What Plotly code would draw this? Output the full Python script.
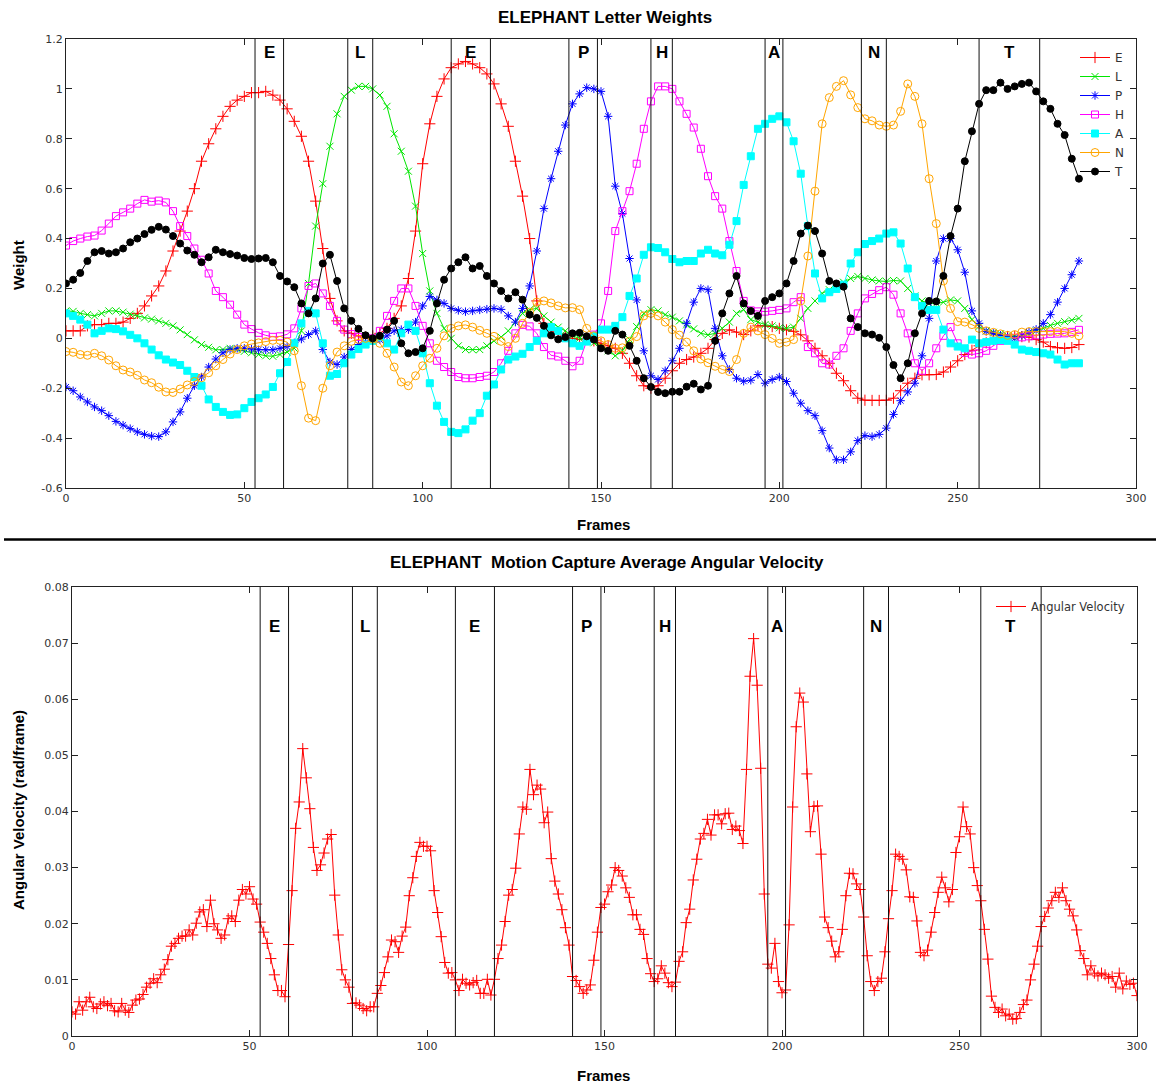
import plotly.graph_objects as go

# ---------------- data ----------------
FRAMES_W = list(range(0, 285, 2))

E_W = [0.03, 0.03, 0.03, 0.05, 0.055, 0.055, 0.06, 0.06, 0.065, 0.08,
       0.10, 0.13, 0.17, 0.21, 0.27, 0.35, 0.43, 0.51, 0.60, 0.71,
       0.78, 0.84, 0.89, 0.93, 0.955, 0.97, 0.985, 0.985, 0.99, 0.975,
       0.955, 0.92, 0.87, 0.81, 0.71, 0.55, 0.36, 0.16, 0.07, 0.03,
       0.02, 0.01, 0.005, 0.01, 0.02, 0.04, 0.08, 0.13, 0.24, 0.43,
       0.70, 0.86, 0.97, 1.04, 1.085, 1.10, 1.11, 1.10, 1.085, 1.06,
       1.02, 0.94, 0.85, 0.71, 0.57, 0.40, 0.15, 0.06, 0.03, 0.02,
       0.01, 0.0, -0.005, 0.0, -0.01, -0.02, -0.03, -0.04, -0.06, -0.10,
       -0.15, -0.19, -0.20, -0.19, -0.16, -0.13, -0.10, -0.085, -0.075, -0.06,
       -0.04, -0.005, 0.02, 0.034, 0.025, 0.015, 0.03, 0.05, 0.05, 0.047,
       0.04, 0.034, 0.028, 0.014, -0.01, -0.04, -0.07, -0.10, -0.14, -0.17,
       -0.21, -0.24, -0.248, -0.249, -0.249, -0.248, -0.24, -0.21, -0.18, -0.16,
       -0.146, -0.146, -0.145, -0.135, -0.115, -0.09, -0.065, -0.048, -0.03, -0.018,
       -0.006, 0.004, 0.007, 0.007, 0.007, 0.005, -0.005, -0.015, -0.033, -0.038,
       -0.04, -0.037, -0.025]

L_W = [0.11, 0.108, 0.10, 0.095, 0.09, 0.10, 0.11, 0.11, 0.105, 0.097,
       0.09, 0.082, 0.077, 0.07, 0.06, 0.05, 0.034, 0.015, -0.006, -0.025,
       -0.036, -0.046, -0.045, -0.04, -0.045, -0.052, -0.058, -0.065, -0.07, -0.072,
       -0.065, -0.055, -0.04, 0.03, 0.22, 0.45, 0.62, 0.77, 0.90, 0.97,
       0.995, 1.01, 1.01, 1.0, 0.975, 0.93, 0.82, 0.75, 0.67, 0.53,
       0.34, 0.19, 0.10, 0.04, 0.0, -0.03, -0.045, -0.046, -0.045, -0.03,
       -0.01, 0.005, 0.03, 0.065, 0.10, 0.115, 0.12, 0.09, 0.065, 0.045,
       0.03, 0.01, 0.0, -0.006, -0.018, -0.03, -0.05, -0.07, -0.05, -0.005,
       0.047, 0.10, 0.115, 0.11, 0.095, 0.085, 0.07, 0.054, 0.038, 0.02,
       0.014, 0.02, 0.04, 0.065, 0.10, 0.115, 0.075, 0.065, 0.055, 0.05,
       0.042, 0.04, 0.045, 0.08, 0.12, 0.15, 0.18, 0.195, 0.208, 0.225,
       0.24, 0.248, 0.24, 0.234, 0.23, 0.228, 0.232, 0.23, 0.20, 0.17,
       0.15, 0.14, 0.14, 0.145, 0.154, 0.15, 0.12, 0.075, 0.048, 0.03,
       0.024, 0.018, 0.01, 0.007, 0.012, 0.02, 0.03, 0.04, 0.052, 0.06,
       0.067, 0.073, 0.08]

P_W = [-0.195, -0.21, -0.235, -0.255, -0.275, -0.29, -0.31, -0.333, -0.348, -0.362,
       -0.375, -0.385, -0.392, -0.394, -0.375, -0.335, -0.295, -0.24, -0.19, -0.155,
       -0.115, -0.083, -0.058, -0.045, -0.04, -0.04, -0.043, -0.046, -0.046, -0.046,
       -0.04, -0.033, -0.018, -0.003, 0.015, 0.03, -0.045, -0.095, -0.105, -0.075,
       -0.045, -0.025, -0.015, -0.01, -0.006, 0.01, 0.03, 0.035, 0.035, 0.065,
       0.13, 0.168, 0.154, 0.14, 0.12, 0.112, 0.107, 0.11, 0.114, 0.117,
       0.12, 0.116, 0.09, 0.065, 0.12, 0.21, 0.35, 0.52, 0.64, 0.75,
       0.855, 0.94, 0.98, 1.005, 1.0, 0.99, 0.89, 0.61, 0.50, 0.32,
       0.154, -0.05, -0.15, -0.165, -0.13, -0.09, -0.04, 0.06, 0.145, 0.20,
       0.195, 0.04, -0.07, -0.125, -0.16, -0.172, -0.168, -0.145, -0.18, -0.165,
       -0.155, -0.173, -0.22, -0.26, -0.29, -0.31, -0.37, -0.44, -0.487, -0.487,
       -0.455, -0.41, -0.39, -0.394, -0.385, -0.36, -0.305, -0.25, -0.215, -0.18,
       -0.07, 0.08, 0.31, 0.40, 0.40, 0.355, 0.265, 0.11, 0.06, 0.028,
       0.02, 0.012, 0.005, 0.0, 0.012, 0.025, 0.036, 0.06, 0.095, 0.145,
       0.20, 0.255, 0.31]

H_W = [0.372, 0.39, 0.40, 0.408, 0.412, 0.432, 0.46, 0.49, 0.505, 0.52,
       0.54, 0.555, 0.548, 0.552, 0.545, 0.51, 0.45, 0.41, 0.36, 0.315,
       0.26, 0.19, 0.165, 0.135, 0.095, 0.055, 0.037, 0.022, 0.012, 0.006,
       0.008, 0.016, 0.04, 0.12, 0.21, 0.22, 0.18, 0.13, 0.07, 0.035,
       0.017, 0.005, 0.0, 0.0, 0.03, 0.09, 0.15, 0.20, 0.20, 0.13,
       0.05, -0.02, -0.09, -0.115, -0.135, -0.155, -0.16, -0.16, -0.155, -0.15,
       -0.135, -0.1, -0.05, 0.02, 0.054, 0.048, 0.02, -0.035, -0.068, -0.073,
       -0.09, -0.112, -0.09, -0.01, 0.015, 0.06, 0.19, 0.43, 0.51, 0.59,
       0.70, 0.84, 0.95, 1.01, 1.01, 1.0, 0.95, 0.90, 0.845, 0.76,
       0.65, 0.57, 0.52, 0.39, 0.27, 0.15, 0.112, 0.108, 0.107, 0.11,
       0.114, 0.12, 0.145, 0.165, -0.035, -0.06, -0.1, -0.105, -0.07, -0.04,
       0.03, 0.10, 0.16, 0.178, 0.193, 0.205, 0.175, 0.10, 0.02, -0.1,
       -0.13, -0.1, -0.04, 0.01, 0.045, -0.02, -0.058, -0.065, -0.06, -0.05,
       -0.03, -0.01, 0.0, 0.002, 0.004, 0.008, 0.012, 0.015, 0.018, 0.019,
       0.02, 0.026, 0.034]

A_W = [0.10, 0.09, 0.075, 0.055, 0.02, 0.03, 0.04, 0.037, 0.028, 0.014,
       0.0, -0.02, -0.045, -0.068, -0.085, -0.097, -0.107, -0.13, -0.155, -0.19,
       -0.245, -0.275, -0.295, -0.307, -0.305, -0.28, -0.255, -0.24, -0.225, -0.195,
       -0.14, -0.095, -0.02, 0.06, 0.11, 0.10, -0.02, -0.15, -0.143, -0.1,
       -0.065, -0.043, -0.025, -0.01, 0.005, -0.02, -0.045, 0.02, 0.055, 0.03,
       -0.06, -0.18, -0.27, -0.335, -0.375, -0.38, -0.365, -0.33, -0.30, -0.23,
       -0.185, -0.125, -0.085, -0.073, -0.062, -0.035, -0.01, 0.02, 0.045, 0.03,
       0.0, -0.02, -0.03, -0.013, 0.01, 0.035, 0.035, 0.05, 0.085, 0.17,
       0.24, 0.335, 0.365, 0.362, 0.345, 0.318, 0.305, 0.31, 0.31, 0.34,
       0.355, 0.34, 0.333, 0.375, 0.47, 0.615, 0.73, 0.84, 0.86, 0.88,
       0.89, 0.866, 0.79, 0.66, 0.45, 0.26, 0.16, 0.185, 0.198, 0.215,
       0.30, 0.345, 0.378, 0.39, 0.40, 0.42, 0.425, 0.38, 0.28, 0.165,
       0.13, 0.114, 0.114, 0.035, -0.02, -0.033, -0.04, -0.005, -0.02, -0.015,
       -0.01, -0.007, -0.01, -0.025, -0.045, -0.05, -0.055, -0.06, -0.065, -0.085,
       -0.105, -0.1, -0.1]

N_W = [-0.053, -0.056, -0.065, -0.068, -0.06, -0.07, -0.087, -0.11, -0.127, -0.135,
       -0.148, -0.167, -0.178, -0.196, -0.215, -0.217, -0.203, -0.187, -0.173, -0.158,
       -0.138, -0.11, -0.085, -0.063, -0.045, -0.03, -0.023, -0.018, -0.013, -0.008,
       -0.008, -0.015, -0.05, -0.19, -0.32, -0.33, -0.2, -0.11, -0.055, -0.03,
       -0.012, -0.004, 0.0, -0.003, -0.02, -0.06, -0.115, -0.175, -0.19, -0.15,
       -0.11, -0.08, -0.04, 0.01, 0.04, 0.05, 0.054, 0.045, 0.032, 0.02,
       0.008, -0.012, -0.033, 0.0, 0.06, 0.105, 0.145, 0.15, 0.142, 0.13,
       0.122, 0.123, 0.115, 0.04, 0.01, -0.01, -0.025, -0.04, -0.038, -0.012,
       0.007, 0.09, 0.10, 0.09, 0.065, 0.035, 0.013, -0.015, -0.05, -0.083,
       -0.098, -0.112, -0.125, -0.133, -0.085, 0.02, 0.045, 0.03, 0.015, 0.0,
       -0.02, -0.015, -0.005, 0.15, 0.33, 0.59, 0.86, 0.965, 1.01, 1.033,
       0.976, 0.925, 0.88, 0.872, 0.855, 0.85, 0.855, 0.91, 1.02, 0.97,
       0.86, 0.64, 0.46, 0.23, 0.12, 0.067, 0.065, 0.055, 0.04, 0.03,
       0.024, 0.018, 0.012, 0.015, 0.025, 0.027, 0.027, 0.027, 0.027, 0.027,
       0.027, 0.02, 0.01]

T_W = [0.22, 0.235, 0.262, 0.31, 0.345, 0.35, 0.34, 0.345, 0.36, 0.385,
       0.40, 0.418, 0.435, 0.447, 0.436, 0.41, 0.38, 0.352, 0.335, 0.305,
       0.325, 0.355, 0.345, 0.338, 0.332, 0.322, 0.318, 0.32, 0.322, 0.305,
       0.25, 0.228, 0.205, 0.14, 0.10, 0.16, 0.30, 0.335, 0.23, 0.12,
       0.07, 0.038, 0.012, 0.0, 0.01, 0.035, 0.07, -0.02, -0.06, -0.055,
       -0.04, 0.03, 0.14, 0.235, 0.28, 0.305, 0.325, 0.28, 0.29, 0.25,
       0.22, 0.19, 0.16, 0.185, 0.155, 0.095, 0.082, 0.05, 0.012, -0.004,
       0.005, 0.02, 0.022, 0.008, -0.005, -0.04, -0.05, 0.03, 0.015, -0.03,
       -0.09, -0.16, -0.195, -0.215, -0.22, -0.214, -0.214, -0.194, -0.182, -0.205,
       -0.19, -0.01, 0.10, 0.18, 0.25, 0.14, 0.11, 0.09, 0.15, 0.165,
       0.18, 0.22, 0.31, 0.42, 0.452, 0.43, 0.34, 0.23, 0.22, 0.207,
       0.08, 0.045, 0.02, 0.015, 0.002, -0.035, -0.107, -0.16, -0.10, 0.02,
       0.10, 0.15, 0.148, 0.25, 0.41, 0.52, 0.71, 0.83, 0.94, 0.995,
       0.995, 1.025, 1.0, 1.01, 1.02, 1.025, 0.99, 0.95, 0.92, 0.86,
       0.815, 0.72, 0.64]

FRAMES_V = list(range(0, 301))
ANG_VEL = [0.0043, 0.0039, 0.0061, 0.0046, 0.0061, 0.0069, 0.0052, 0.0049, 0.0057, 0.0061,
           0.0054, 0.0058, 0.0045, 0.0043, 0.0058, 0.0046, 0.0042, 0.0055, 0.0064, 0.0066,
           0.0074, 0.0087, 0.0094, 0.0102, 0.0095, 0.0109, 0.0119, 0.0136, 0.0160, 0.0165,
           0.0174, 0.0178, 0.0178, 0.0189, 0.0180, 0.0201, 0.0221, 0.0225, 0.0195, 0.0242,
           0.0200, 0.0189, 0.0174, 0.0180, 0.0209, 0.0214, 0.0204, 0.0242, 0.0261, 0.0253,
           0.0266, 0.0244, 0.0235, 0.0203, 0.0185, 0.0165, 0.0138, 0.0109, 0.0081, 0.0081,
           0.0070, 0.0163, 0.0259, 0.0370, 0.0417, 0.0512, 0.0460, 0.0405, 0.0336, 0.0295,
           0.0305, 0.0326, 0.0351, 0.0359, 0.0251, 0.0180, 0.0118, 0.0100, 0.0087, 0.0058,
           0.0059, 0.0055, 0.0049, 0.0045, 0.0052, 0.0052, 0.0076, 0.0090, 0.0113, 0.0141,
           0.0171, 0.0168, 0.0149, 0.0178, 0.0194, 0.0250, 0.0282, 0.0320, 0.0345, 0.0338,
           0.0338, 0.0330, 0.0259, 0.0220, 0.0177, 0.0131, 0.0112, 0.0113, 0.0100, 0.0081,
           0.0101, 0.0094, 0.0091, 0.0095, 0.0099, 0.0076, 0.0076, 0.0101, 0.0073, 0.0101,
           0.0138, 0.0162, 0.0204, 0.0251, 0.0261, 0.0299, 0.0360, 0.0408, 0.0404, 0.0475,
           0.0430, 0.0447, 0.0440, 0.0380, 0.0399, 0.0316, 0.0276, 0.0253, 0.0225, 0.0193,
           0.0162, 0.0106, 0.0099, 0.0088, 0.0076, 0.0082, 0.0091, 0.0135, 0.0185, 0.0229,
           0.0235, 0.0257, 0.0269, 0.0300, 0.0295, 0.0285, 0.0264, 0.0247, 0.0216, 0.0216,
           0.0190, 0.0181, 0.0138, 0.0111, 0.0097, 0.0102, 0.0125, 0.0112, 0.0095, 0.0088,
           0.0096, 0.0133, 0.0150, 0.0202, 0.0226, 0.0278, 0.0315, 0.0351, 0.0361, 0.0386,
           0.0358, 0.0394, 0.0394, 0.0378, 0.0396, 0.0397, 0.0368, 0.0374, 0.0366, 0.0343,
           0.0475, 0.0641, 0.0708, 0.0625, 0.0477, 0.0253, 0.0128, 0.0121, 0.0165, 0.0097,
           0.0077, 0.0082, 0.0198, 0.0408, 0.0551, 0.0611, 0.0595, 0.0467, 0.0364, 0.0409,
           0.0410, 0.0324, 0.0212, 0.0193, 0.0169, 0.0141, 0.0150, 0.0190, 0.0250, 0.0290,
           0.0289, 0.0271, 0.0261, 0.0212, 0.0143, 0.0097, 0.0081, 0.0097, 0.0103, 0.0150,
           0.0209, 0.0259, 0.0324, 0.0320, 0.0315, 0.0296, 0.0248, 0.0247, 0.0205, 0.0149,
           0.0143, 0.0153, 0.0185, 0.0220, 0.0256, 0.0283, 0.0264, 0.0239, 0.0261, 0.0327,
           0.0355, 0.0408, 0.0373, 0.0360, 0.0300, 0.0268, 0.0241, 0.0190, 0.0137, 0.0071,
           0.0051, 0.0042, 0.0048, 0.0036, 0.0039, 0.0030, 0.0031, 0.0042, 0.0056, 0.0064,
           0.0100, 0.0128, 0.0160, 0.0195, 0.0213, 0.0228, 0.0241, 0.0256, 0.0247, 0.0264,
           0.0241, 0.0226, 0.0214, 0.0189, 0.0152, 0.0138, 0.0109, 0.0125, 0.0112, 0.0107,
           0.0112, 0.0109, 0.0103, 0.0106, 0.0087, 0.0112, 0.0084, 0.0098, 0.0092, 0.0094,
           0.0072]

LETTER_BOUNDS = [53, 61, 79, 86, 108, 119, 141, 149, 164, 170, 196, 201, 223, 230, 256, 273]
LETTERS = ["E", "L", "E", "P", "H", "A", "N", "T"]

X_TICKS = [0, 50, 100, 150, 200, 250, 300]
Y_TICKS_W = [-0.6, -0.4, -0.2, 0, 0.2, 0.4, 0.6, 0.8, 1.0, 1.2]
Y_TEXT_W = ["-0.6", "-0.4", "-0.2", "0", "0.2", "0.4", "0.6", "0.8", "1", "1.2"]
Y_TICKS_V = [0, 0.01, 0.02, 0.03, 0.04, 0.05, 0.06, 0.07, 0.08]
Y_TEXT_V = ["0", "0.01", "0.02", "0.03", "0.04", "0.05", "0.06", "0.07", "0.08"]

SERIES_W = [("E", E_W), ("L", L_W), ("P", P_W), ("H", H_W), ("A", A_W), ("N", N_W), ("T", T_W)]

# ---------------- styles ----------------
STYLE = {
    "E": ("#ff0000", "cross-thin", 8),
    "L": ("#00e600", "x-thin", 7),
    "P": ("#0000ff", "asterisk", 7),
    "H": ("#ff00ff", "square-open", 7),
    "A": ("#00ffff", "square", 7),
    "N": ("#ffa500", "circle-open", 8),
    "T": ("#000000", "circle", 7),
}

W, H = 1160, 1086
def px(v): return v / W
def py(v): return 1 - v / H

fig = go.Figure()

for name, vals in SERIES_W:
    col, sym, sz = STYLE[name]
    fig.add_trace(go.Scatter(
        x=FRAMES_W, y=vals, name=name, mode="lines+markers",
        line=dict(color=col, width=1),
        marker=dict(symbol=sym, size=sz, color=col, line=dict(color=col, width=1)),
        xaxis="x", yaxis="y", legend="legend"))

fig.add_trace(go.Scatter(
    x=FRAMES_V, y=ANG_VEL, name="Angular Velocity", mode="lines+markers",
    line=dict(color="#ff0000", width=1),
    marker=dict(symbol="cross-thin", size=8, color="#ff0000", line=dict(color="#ff0000", width=1)),
    xaxis="x2", yaxis="y2", legend="legend2"))

tickfont = dict(family="DejaVu Sans", size=11, color="#333333")
axis_common = dict(showline=True, linecolor="#222", linewidth=1, mirror="allticks",
                   ticks="inside", ticklen=6, tickcolor="#222", showgrid=False,
                   zeroline=False, tickfont=tickfont, automargin=False)

shapes = []
annotations = []
for xa, ya, ly in (("x", "y", 0.969), ("x2", "y2", 0.913)):
    for b in LETTER_BOUNDS:
        shapes.append(dict(type="line", xref=xa, yref=ya + " domain", x0=b, x1=b, y0=0, y1=1,
                           line=dict(color="#111", width=1)))
    for i, letter in enumerate(LETTERS):
        cx = (LETTER_BOUNDS[2 * i] + LETTER_BOUNDS[2 * i + 1]) / 2
        annotations.append(dict(x=cx, y=ly, xref=xa, yref=ya + " domain", text="<b>%s</b>" % letter,
                                xanchor="center", yanchor="middle",
                                showarrow=False, font=dict(family="Liberation Sans", size=17, color="black")))

shapes.append(dict(type="line", xref="paper", yref="paper", x0=px(4), x1=px(1156),
                   y0=py(539.5), y1=py(539.5), line=dict(color="black", width=2.5)))

title_font = dict(family="Liberation Sans", size=17, color="black")
label_font = dict(family="Liberation Sans", size=15, color="black")
def ann(x, y, text, font, angle=0):
    return dict(x=px(x), y=py(y), xref="paper", yref="paper", text=text, textangle=angle,
                xanchor="center", yanchor="middle", showarrow=False, font=font)

annotations += [
    ann(605, 17, "<b>ELEPHANT Letter Weights</b>", title_font),
    ann(603, 525, "<b>Frames</b>", label_font),
    ann(18, 265, "<b>Weight</b>", label_font, -90),
    ann(607, 562, "<b>ELEPHANT  Motion Capture Average Angular Velocity</b>", title_font),
    ann(603, 1075, "<b>Frames</b>", label_font),
    ann(18, 810, "<b>Angular Velocity (rad/frame)</b>", label_font, -90),
]

fig.update_layout(
    width=W, height=H, margin=dict(l=0, r=0, t=0, b=0, pad=0, autoexpand=False),
    paper_bgcolor="white", plot_bgcolor="white",
    xaxis=dict(domain=[px(66), px(1136)], anchor="y", range=[0, 300], tickvals=X_TICKS, **axis_common),
    yaxis=dict(domain=[py(488), py(39)], anchor="x", range=[-0.6, 1.2],
               tickvals=Y_TICKS_W, ticktext=Y_TEXT_W, **axis_common),
    xaxis2=dict(domain=[px(72), px(1137)], anchor="y2", range=[0, 300], tickvals=X_TICKS, **axis_common),
    yaxis2=dict(domain=[py(1036), py(587)], anchor="x2", range=[0, 0.08],
                tickvals=Y_TICKS_V, ticktext=Y_TEXT_V, **axis_common),
    legend=dict(x=px(1130), y=py(43), xanchor="right", yanchor="top", bgcolor="rgba(0,0,0,0)",
                font=dict(family="DejaVu Sans", size=12, color="#333333")),
    legend2=dict(x=px(1130), y=py(592), xanchor="right", yanchor="top", bgcolor="rgba(0,0,0,0)",
                 font=dict(family="DejaVu Sans", size=11.5, color="#333333")),
    showlegend=True,
    shapes=shapes, annotations=annotations,
)

fig.write_html("out.html")
